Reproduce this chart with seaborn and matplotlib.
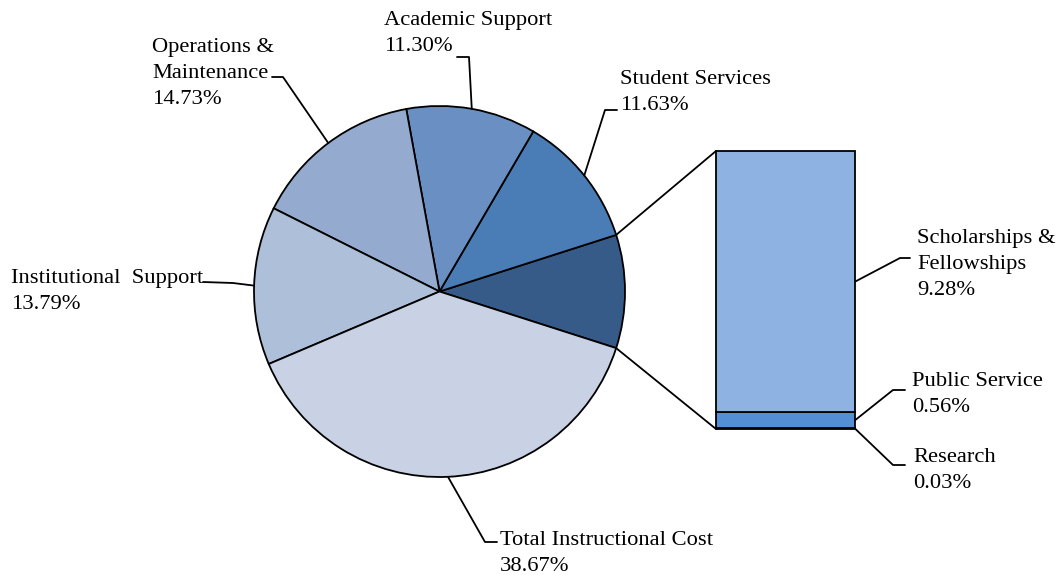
import numpy as np
import matplotlib.pyplot as plt
import seaborn as sns
from matplotlib.patches import ConnectionPatch

# ------------------ Data ------------------
pie_labels = ["Student Services", "Academic Support", "Operations &\nMaintenance",
              "Institutional  Support", "Total Instructional Cost"]
pie_pcts = [11.63, 11.30, 14.73, 13.79, 38.67]

bar_labels = ["Research", "Public Service", "Scholarships &\nFellowships"]
bar_pcts = [0.03, 0.56, 9.28]

# ------------------ Style / layout ------------------
other_color = "#375B88"
pie_colors = ["#4A7DB6", "#6A90C3", "#94AACF", "#AEBFDA", "#C9D2E5"]
bar_colors = ["#2F4F7A", "#548FD5", "#8EB2E2"]

W, H = 1058, 575
center = (439.5, H - 291.5)
radius = 185.5

# label (left x, first baseline y) and leader elbow/end, in pixels from top-left
pie_text_pos = [(620, 84), (384, 25), (152, 52), (11, 283), (500, 545)]
pie_leaders = [((605, 110), (617, 110)), ((469, 57), (457, 57)), ((283, 77), (272, 77)),
               ((233, 283), (203, 282)), ((485, 542), (497, 542))]
bar_text_pos = [(913, 462), (912, 386), (917, 243)]
bar_leaders = [((893, 465), (905, 465)), ((893, 390), (905, 390)), ((900, 258), (910, 258))]

sns.set_theme(style="white")
plt.rcParams["font.family"] = ["Liberation Serif", "DejaVu Serif"]
fontsize = 16.2
line_step = 26
lw = 1.3

fig = plt.figure(figsize=(10.58, 5.75), dpi=100)
ax = fig.add_axes([0, 0, 1, 1])


def px(p):
    return (p[0], H - p[1])


def put_label(pos, lab, pct):
    lines = f"{lab}\n{pct:.2f}%".split("\n")
    for k, line in enumerate(lines):
        tx, ty = px((pos[0], pos[1] + k * line_step))
        ax.text(tx, ty, line, ha="left", va="baseline", fontsize=fontsize,
                color="black")


# ------------------ Pie ------------------
other_total = sum(bar_pcts)
values = [other_total] + pie_pcts
start = -other_total / sum(values) * 360 / 2
wedges, _ = ax.pie(values, colors=[other_color] + pie_colors, startangle=start,
                   counterclock=True, center=center, radius=radius, frame=True,
                   wedgeprops=dict(edgecolor="black", linewidth=lw))
ax.set_xlim(0, W)
ax.set_ylim(0, H)
ax.set_aspect("equal")
ax.axis("off")

for i, (lab, pct) in enumerate(zip(pie_labels, pie_pcts)):
    w = wedges[i + 1]
    mid = np.deg2rad((w.theta1 + w.theta2) / 2)
    p0 = (center[0] + radius * np.cos(mid), center[1] + radius * np.sin(mid))
    elbow, end = pie_leaders[i]
    xs = [p0[0], px(elbow)[0], px(end)[0]]
    ys = [p0[1], px(elbow)[1], px(end)[1]]
    ax.plot(xs, ys, color="black", lw=lw)
    put_label(pie_text_pos[i], lab, pct)

# ------------------ Bar of pie ------------------
bar_left, bar_top, bar_right, bar_bottom = 716, 151, 855, 429
ax2 = fig.add_axes([bar_left / W, (H - bar_bottom) / H,
                    (bar_right - bar_left) / W, (bar_bottom - bar_top) / H])
ax2.set_xlim(-0.5, 0.5)
ax2.set_ylim(0, other_total)
ax2.axis("off")
bottom = 0
mids = []
for val, col in zip(bar_pcts, bar_colors):
    ax2.bar(0, val, width=1, bottom=bottom, color=col, edgecolor="black",
            linewidth=lw, clip_on=False)
    mids.append(bottom + val / 2)
    bottom += val

# connectors from pie to bar
w0 = wedges[0]
for ang, yb in [(w0.theta2, other_total), (w0.theta1, 0)]:
    a = np.deg2rad(ang)
    pa = (center[0] + radius * np.cos(a), center[1] + radius * np.sin(a))
    con = ConnectionPatch(xyA=pa, coordsA=ax.transData, xyB=(-0.5, yb),
                          coordsB=ax2.transData, color="black", lw=lw)
    fig.add_artist(con)

to_ax = ax.transData.inverted()
for i, (lab, pct) in enumerate(zip(bar_labels, bar_pcts)):
    p0 = to_ax.transform(ax2.transData.transform((0.5, mids[i])))
    elbow, end = bar_leaders[i]
    xs = [p0[0], px(elbow)[0], px(end)[0]]
    ys = [p0[1], px(elbow)[1], px(end)[1]]
    ax.plot(xs, ys, color="black", lw=lw)
    put_label(bar_text_pos[i], lab, pct)

fig.savefig("out.png", dpi=100)
